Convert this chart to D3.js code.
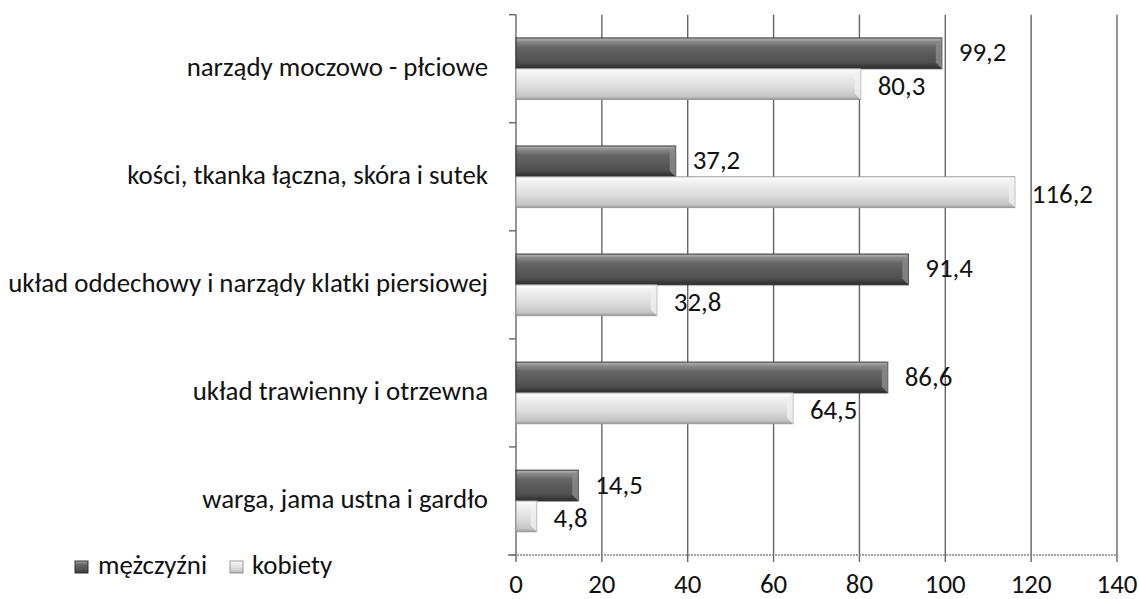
<!DOCTYPE html>
<html><head><meta charset="utf-8">
<script src="https://cdn.jsdelivr.net/npm/d3@7"></script>
<style>body{margin:0;background:#fff}svg{display:block}</style>
</head><body>
<svg id="c" width="1139" height="599"></svg>
<script>
const categories = ["narządy moczowo - płciowe","kości, tkanka łączna, skóra i sutek","układ oddechowy i narządy klatki piersiowej","układ trawienny i otrzewna","warga, jama ustna i gardło"];
const men = [99.2, 37.2, 91.4, 86.6, 14.5];
const women = [80.3, 116.2, 32.8, 64.5, 4.8];
const seriesNames = ["mężczyźni","kobiety"];
const xTicks = [0,20,40,60,80,100,120,140];

const svg = d3.select("#c");
const font = "Carlito, Calibri, Lato, 'Open Sans', sans-serif";
const L = 516, R = 1117, T = 14.7, B = 555;
const x = d3.scaleLinear().domain([0,140]).range([L,R]);
const y = d3.scaleBand().domain(categories).range([T,B]).paddingInner(0.43).paddingOuter(0.215);
const sub = d3.scaleBand().domain(seriesNames).range([0,y.bandwidth()]);

const defs = svg.append("defs");
function grad(id, stops){
  const g = defs.append("linearGradient").attr("id",id).attr("x1",0).attr("y1",0).attr("x2",0).attr("y2",1);
  stops.forEach(s=>g.append("stop").attr("offset",s[0]).attr("stop-color",s[1]));
}
grad("gDark",[[0,"#b8b8b8"],[0.12,"#8a8a8a"],[0.3,"#666"],[0.8,"#4e4e4e"],[1,"#2a2a2a"]]);
grad("gLight",[[0,"#ffffff"],[0.15,"#f2f2f2"],[0.6,"#dcdcdc"],[0.9,"#c4c4c4"],[1,"#9a9a9a"]]);

// category labels (measured first to get font size)
const catG = svg.append("g").selectAll("text").data(categories).join("text")
  .attr("x",488).attr("y",d=>y(d)+y.bandwidth()/2+7).attr("text-anchor","end")
  .attr("font-family",font).attr("font-size",21).attr("fill","#111").text(d=>d);
let maxW = 0; catG.each(function(){maxW=Math.max(maxW,this.getComputedTextLength());});
const fs = 21*480/maxW;
catG.attr("font-size",fs);

// gridlines
const grid = svg.append("g");
xTicks.slice(1).forEach(t=>{
  grid.append("line").attr("x1",x(t)).attr("x2",x(t)).attr("y1",T).attr("y2",B+7)
    .attr("stroke","#666").attr("stroke-width",1.4);
});
// bottom axis
svg.append("line").attr("x1",L-8).attr("x2",R).attr("y1",B).attr("y2",B)
  .attr("stroke","#888").attr("stroke-width",1.3).attr("stroke-dasharray","2,1");
svg.append("line").attr("x1",x(0)).attr("x2",x(0)).attr("y1",B).attr("y2",B+7).attr("stroke","#666").attr("stroke-width",1.4);
// left axis
svg.append("line").attr("x1",L).attr("x2",L).attr("y1",T).attr("y2",B).attr("stroke","#666").attr("stroke-width",1.4);
d3.range(6).forEach(i=>{
  const yy = T + i*(B-T)/5;
  svg.append("line").attr("x1",L-7).attr("x2",L).attr("y1",yy).attr("y2",yy).attr("stroke","#666").attr("stroke-width",1.4);
});
// x tick labels
svg.append("g").selectAll("text").data(xTicks).join("text")
  .attr("x",d=>x(d)).attr("y",593).attr("text-anchor","middle")
  .attr("font-family",font).attr("font-size",fs).attr("fill","#111").text(d=>d);

function drawBars(vals, name, gid, stroke){
  const g = svg.append("g");
  vals.forEach((v,i)=>{
    const y0 = y(categories[i]) + sub(name), h = sub.bandwidth();
    const x0 = x(0), x1 = x(v);
    g.append("rect").attr("x",x0).attr("y",y0).attr("width",x1-x0).attr("height",h)
      .attr("fill",`url(#${gid})`).attr("stroke",stroke).attr("stroke-width",1);
    const bv = Math.min(6,(x1-x0)/2);
    g.append("path").attr("d",`M${x1-bv},${y0+bv}L${x1},${y0}L${x1},${y0+h}L${x1-bv},${y0+h-bv}Z`)
      .attr("fill", gid==="gDark" ? "#8c8c8c" : "#f0f0f0").attr("opacity",0.8);
  });
}
drawBars(men, seriesNames[0], "gDark", "#333");
drawBars(women, seriesNames[1], "gLight", "#999");

// value labels
const fmt = v => v.toFixed(1).replace(".",",");
function labels(vals, name, dy){
  svg.append("g").selectAll("text").data(vals).join("text")
    .attr("x",v=>x(v)+17).attr("y",(v,i)=>y(categories[i])+sub(name)+sub.bandwidth()/2+8+dy)
    .attr("font-family",font).attr("font-size",fs).attr("fill","#111").text(fmt);
}
labels(men, seriesNames[0], 0);
labels(women, seriesNames[1], 3);

// legend
const lg = svg.append("g");
[[75,98,"gDark","#333"],[230,252,"gLight","#999"]].forEach((d,i)=>{
  lg.append("rect").attr("x",d[0]).attr("y",561).attr("width",13).attr("height",12)
    .attr("fill",`url(#${d[2]})`).attr("stroke",d[3]);
  lg.append("text").attr("x",d[1]).attr("y",574).attr("font-family",font).attr("font-size",fs)
    .attr("fill","#111").text(seriesNames[i]);
});
</script>
</body></html>
